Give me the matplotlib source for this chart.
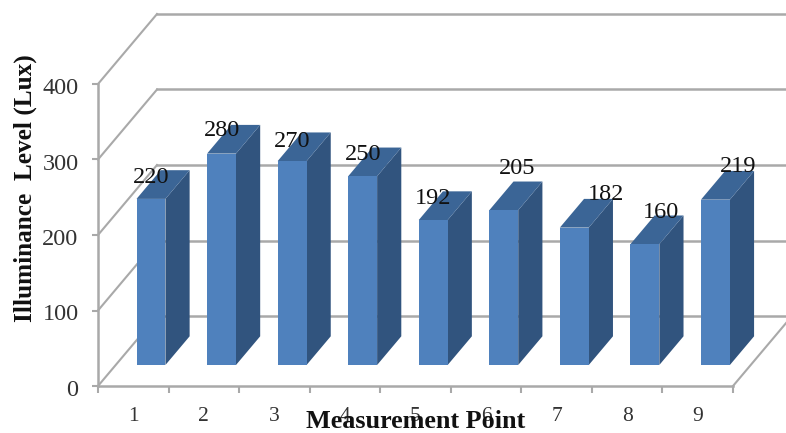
import matplotlib
matplotlib.use('Agg')
import matplotlib.pyplot as plt
import matplotlib.transforms as mtrans
import numpy as np

plt.rcParams['font.family'] = ['Liberation Serif', 'DejaVu Serif']

# Illuminance readings
points = [1, 2, 3, 4, 5, 6, 7, 8, 9]
lux = [220, 280, 270, 250, 192, 205, 182, 160, 219]
y_ticks = [0, 100, 200, 300, 400]

# Label nudges from the top of each bar, in pixels
nudge_x = [0, 0, 0, 0, 0, 13, 32, 16, 23]
nudge_y = [21, 23, 20, 22, 22, 42, 33, 32, 33]

GRID = '#a9a9a9'
FRONT = '#4f81bd'
SIDE = '#31547e'
TOP = '#3b6596'
PX = 0.72  # points per pixel at dpi 100

# Oblique depth of the chart box, in data units
DEPTH_X = 59/(635/9)
DEPTH_Y = 70/(302/400)
BAR_W = 0.41
NEAR = 0.30
FAR = 0.71

fig = plt.figure(figsize=(7.86, 4.33), dpi=100)
ax = fig.add_axes([98/786, (433-386)/433, 635/786, 302/433])
ax.set_xlim(0.5, 9.5)
ax.set_ylim(0, 400)
ax.patch.set_visible(False)

# Side wall lines and back wall grid
for v in y_ticks:
    ax.plot([0.5, 0.5+DEPTH_X], [v, v+DEPTH_Y], color=GRID, lw=1.5, clip_on=False, zorder=1)
    ax.plot([0.5+DEPTH_X, 9.5+DEPTH_X], [v+DEPTH_Y, v+DEPTH_Y], color=GRID, lw=1.8, clip_on=False, zorder=1)
# Floor edge on the right
ax.plot([9.5, 9.5+DEPTH_X], [0, DEPTH_Y], color=GRID, lw=1.5, clip_on=False, zorder=1)

# 3D bars: front face plus side and top faces
for p, v, dx, dy in zip(points, lux, nudge_x, nudge_y):
    x0 = p - BAR_W/2 + NEAR*DEPTH_X
    x1 = x0 + BAR_W
    y0 = NEAR*DEPTH_Y
    y1 = y0 + v
    sx = (FAR-NEAR)*DEPTH_X
    sy = (FAR-NEAR)*DEPTH_Y
    ax.fill([x1, x1+sx, x1+sx, x1], [y0, y0+sy, y1+sy, y1], color=SIDE, lw=0, clip_on=False, zorder=3)
    ax.fill([x0, x1, x1+sx, x0+sx], [y1, y1, y1+sy, y1+sy], color=TOP, lw=0, clip_on=False, zorder=3)
    ax.bar(x0+BAR_W/2, v, BAR_W, bottom=y0, color=FRONT, lw=0, clip_on=False, zorder=4)
    ax.annotate(str(v), xy=(x0+BAR_W/2, y1), xytext=(dx*PX, dy*PX), textcoords='offset points',
                ha='center', va='center', fontsize=17.5, color='#111111', zorder=6)

for side in ['top', 'right']:
    ax.spines[side].set_visible(False)
for side in ['left', 'bottom']:
    ax.spines[side].set_color(GRID)
    ax.spines[side].set_linewidth(1.8)

ax.set_yticks(y_ticks)
ax.set_yticklabels([str(v) for v in y_ticks], fontsize=17.5, color='#333333')
ax.tick_params(axis='y', length=4, width=1.5, color=GRID, pad=10)
# Drop the y labels slightly below their ticks
shift = mtrans.ScaledTranslation(0, -2*PX/72, fig.dpi_scale_trans)
for lab in ax.get_yticklabels():
    lab.set_transform(lab.get_transform() + shift)

# Ticks sit between the points, labels in the middle of each slot
ax.set_xticks(np.arange(0.5, 10))
ax.set_xticklabels([])
ax.set_xticks(points, minor=True)
ax.set_xticklabels([str(p) for p in points], minor=True, fontsize=15.5, color='#333333')
ax.tick_params(axis='x', which='major', length=5, width=1.5, color=GRID)
ax.tick_params(axis='x', which='minor', length=0, pad=15)

fig.text(416/786, 1-421/433, 'Measurement Point', ha='center', va='center',
         fontsize=18.8, fontweight='bold', color='#111111', zorder=7)
fig.text(25/786, 1-188/433, 'Illuminance  Level (Lux)', ha='center', va='center',
         rotation=90, fontsize=18.2, fontweight='bold', color='#111111')

fig.savefig('out.png', dpi=100)
